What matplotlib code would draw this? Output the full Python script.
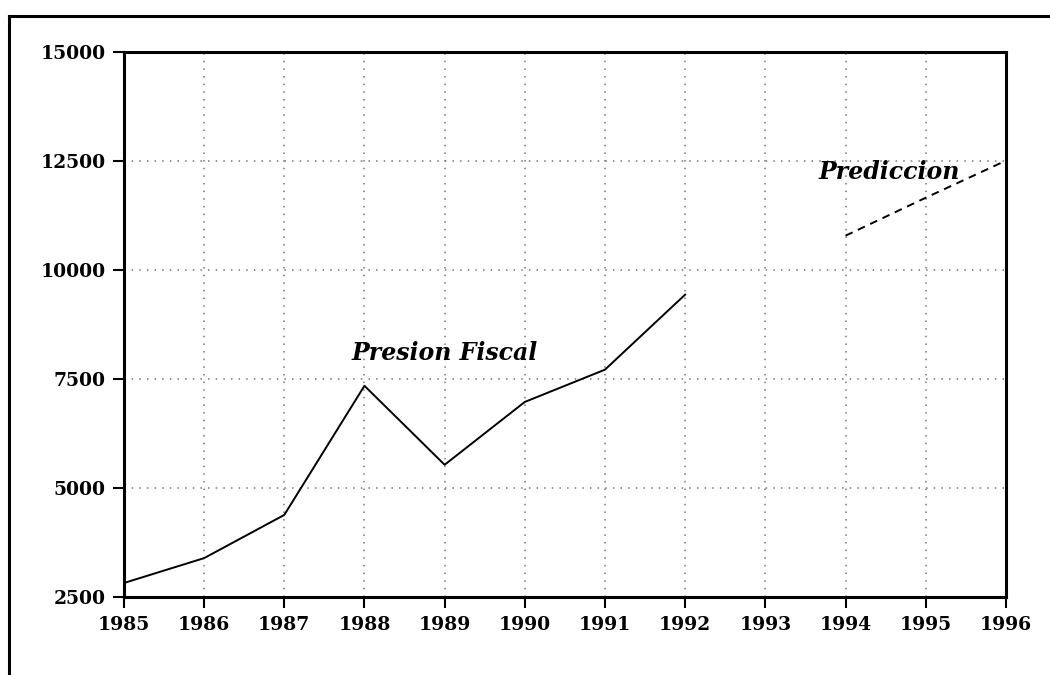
import matplotlib
matplotlib.use("Agg")
import matplotlib.pyplot as plt
from matplotlib.lines import Line2D

# datos
anios = [1985, 1986, 1987, 1988, 1989, 1990, 1991, 1992]
presion_fiscal = [2820, 3390, 4380, 7340, 5530, 6970, 7710, 9430]
anios_pred = [1994, 1995, 1996]
prediccion = [10780, 11650, 12500]
ticks_x = list(range(1985, 1997))
ticks_y = [2500, 5000, 7500, 10000, 12500, 15000]

plt.rcParams['font.family'] = ['DejaVu Serif']

fig = plt.figure(figsize=(10.5, 6.75), dpi=100)
ax = fig.add_axes([0.118, 0.1156, 0.840, 0.808])

ax.plot(anios, presion_fiscal, color='black', lw=1.4)
ax.plot(anios_pred, prediccion, color='black', lw=1.4, ls=(0, (4, 3)))

ax.set_xlim(1985, 1996)
ax.set_ylim(2500, 15000)
ax.set_xticks(ticks_x)
ax.set_yticks(ticks_y)
ax.set_xticklabels([str(t) for t in ticks_x], fontsize=13.5, fontweight='semibold')
ax.set_yticklabels([str(t) for t in ticks_y], fontsize=13.5, fontweight='semibold')
ax.tick_params(axis='y', direction='out', length=8, width=1.5, color='black', pad=5)
ax.tick_params(axis='x', direction='out', length=8, width=1.5, color='black', pad=6)

ax.grid(True, color='#777777', ls=(0, (1, 4)), lw=1.1)
for s in ax.spines.values():
    s.set_linewidth(2.2)
    s.set_color('black')

ax.text(1989.0, 8100, 'Presion Fiscal', fontsize=17, fontstyle='italic',
        fontweight='bold', ha='center', va='center')
ax.text(1994.55, 12230, 'Prediccion', fontsize=17, fontstyle='italic',
        fontweight='bold', ha='center', va='center')

# marco exterior
fig.add_artist(Line2D([0.0086, 0.0086], [0.976, 0.0], transform=fig.transFigure,
                      color='black', lw=2.2))
fig.add_artist(Line2D([0.0086, 1.0], [0.976, 0.976], transform=fig.transFigure,
                      color='black', lw=2.2))

fig.savefig('out.png', dpi=100)
